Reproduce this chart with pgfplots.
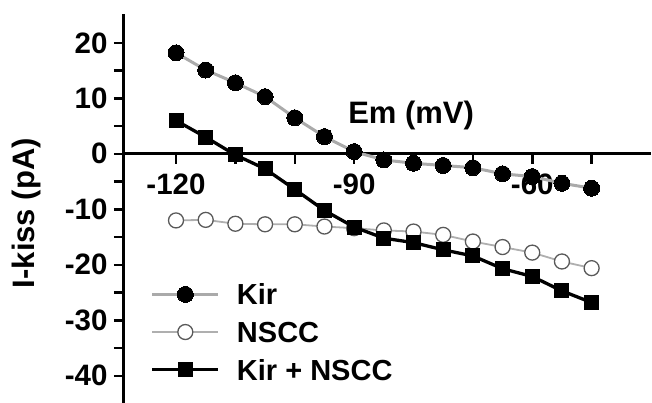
\documentclass[border=0pt]{standalone}
\usepackage{fontspec}
\setmainfont{Liberation Sans}
\usepackage{pgfplots}
\pgfplotsset{compat=1.18}

\newcommand\tickfont{\fontsize{29.5}{34}\selectfont\bfseries}
\newcommand\labfont{\fontsize{29}{34}\selectfont\bfseries}
\newcommand\emfont{\fontsize{31}{36}\selectfont\bfseries}
\newcommand\ylabfont{\fontsize{31}{36}\selectfont\bfseries}

\pgfplotstableread{
em    kir    nscc   sum
-120  18.2  -12.0    6.0
-115  15.1  -11.9    3.0
-110  12.8  -12.6   -0.2
-105  10.3  -12.7   -2.7
-100   6.5  -12.7   -6.4
-95    3.1  -13.1  -10.2
-90    0.4  -13.4  -13.2
-85   -1.1  -13.8  -15.2
-80   -1.7  -14.0  -16.0
-75   -2.1  -14.6  -17.3
-70   -2.5  -15.8  -18.4
-65   -3.6  -16.8  -20.7
-60   -4.1  -17.8  -22.1
-55   -5.3  -19.4  -24.7
-50   -6.2  -20.6  -26.8
}\ivdata

\definecolor{kirgray}{RGB}{170,170,170}
\definecolor{nsccgray}{RGB}{175,175,175}

\begin{document}
\begin{tikzpicture}
\begin{axis}[
    scale only axis,
    width=527pt, height=389pt,
    xmin=-128.76, xmax=-40,
    ymin=-44.9, ymax=25.2,
    axis x line*=middle,
    axis y line*=left,
    axis line style={line width=3pt},
    hide obscured x ticks=false,
    hide obscured y ticks=false,
    xtick={-120,-90,-60},
    minor xtick={-110,-100,-80,-70,-50},
    ytick={-40,-30,...,20},
    minor ytick={-35,-25,...,15},
    tick align=outside,
    major tick length=10pt,
    minor tick length=10pt,
    every tick/.style={black, line width=2.5pt},
    /pgf/number format/assume math mode=true,
    ticklabel style={font=\tickfont},
    xticklabel style={yshift=-7pt},
    yticklabel style={xshift=-3pt},
    ylabel={I-kiss (pA)},
    every axis y label/.style={at={(rel axis cs:0,0.488)}, xshift=-98pt,
        rotate=90, anchor=center, font=\ylabfont},
    clip=false,
    legend style={draw=none, fill=none, at={(axis cs:-124.3,-23.4)}, anchor=north west,
        font=\labfont, inner sep=0pt, row sep=17pt,
        nodes={inner sep=0pt, text depth=0pt}},
    legend cell align=left,
    legend image code/.code={
        \draw[mark repeat=2, mark phase=2, #1] plot coordinates {(0pt,0pt) (33pt,0pt) (66pt,0pt)};
    },
]
\addplot[kirgray, line width=3pt, mark=*, mark size=8pt,
    mark options={solid, fill=black, draw=black, line width=0pt}]
    table[x=em, y=kir] {\ivdata};
\addlegendentry{\hspace{17pt}Kir}
\addplot[nsccgray, line width=1.8pt, mark=*, mark size=7.5pt,
    mark options={solid, fill=white, draw=black!65, line width=1.3pt}]
    table[x=em, y=nscc] {\ivdata};
\addlegendentry{\hspace{17pt}NSCC}
\addplot[black, line width=3.3pt, mark=square*, mark size=7pt,
    mark options={solid, fill=black, draw=black, line width=0pt}]
    table[x=em, y=sum] {\ivdata};
\addlegendentry{\hspace{17pt}Kir + NSCC}
\node[anchor=base, font=\emfont] at (axis cs:-80.4,5.4) {Em (mV)};
\coordinate (ll) at (rel axis cs:0,0);
\end{axis}
\pgfresetboundingbox
\path (ll) ++(-124pt,0pt) rectangle ++(652pt,403pt);
\end{tikzpicture}
\end{document}
